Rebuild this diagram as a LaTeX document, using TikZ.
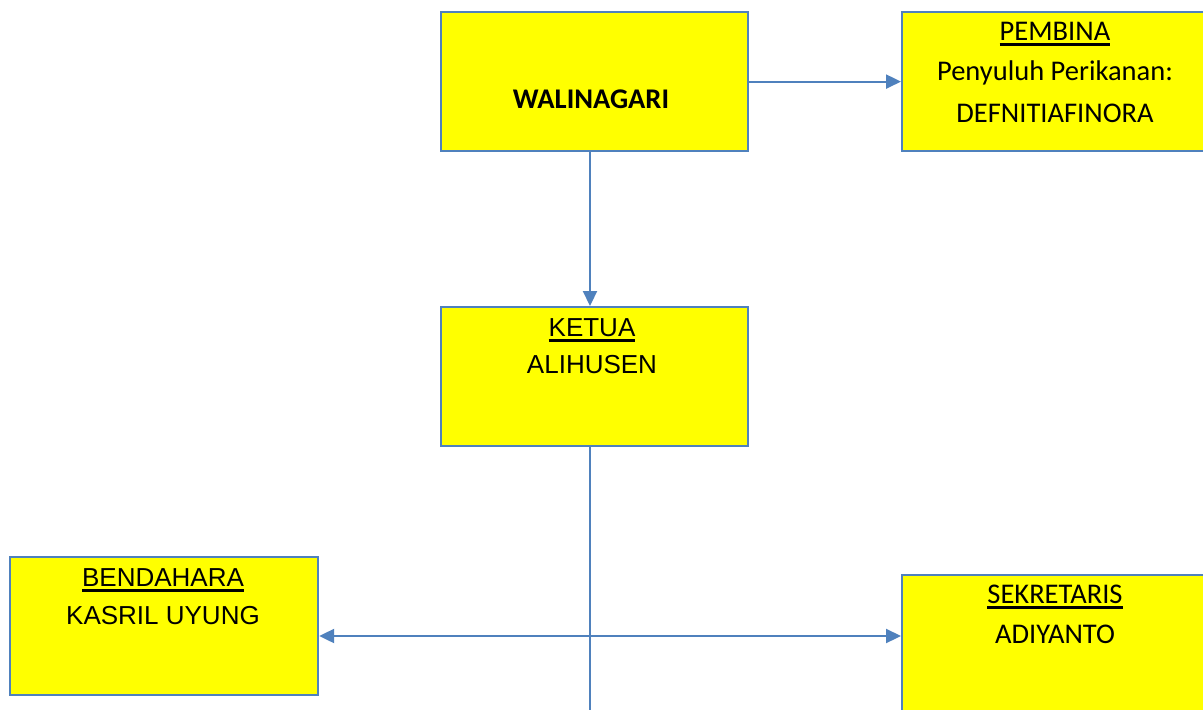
\documentclass[tikz,border=0pt]{standalone}
\usepackage{fontspec}
\setmainfont{Carlito}
\newfontfamily\arialf{Liberation Sans}
\usetikzlibrary{arrows.meta}
\definecolor{edgeblue}{RGB}{79,129,189}
\definecolor{boxyellow}{RGB}{255,255,0}
\newcommand\myul[1]{\setbox0\hbox{#1}\rlap{\raisebox{-5.5pt}{\rule{\wd0}{2.2pt}}}\box0}
\begin{document}
\begin{tikzpicture}[x=1pt,y=-1pt,
  box/.style={draw=edgeblue, fill=boxyellow, line width=2.2pt, rectangle, anchor=north west, inner sep=0pt},
  conn/.style={draw=edgeblue, line width=2.2pt},
  tip/.tip={Triangle[length=15pt,width=14pt]},
  arr/.style={conn, -tip},
  cal/.style={font=\fontsize{28.5}{34}\selectfont, anchor=base, inner sep=0pt},
  calb/.style={font=\fontsize{28.5}{34}\selectfont\bfseries, anchor=base, inner sep=0pt},
  ari/.style={font=\arialf\fontsize{26}{31}\selectfont, anchor=base, inner sep=0pt}]
\clip (0,0) rectangle (1203,710);
\fill[white] (0,0) rectangle (1203,710);
% boxes
\node[box, minimum width=307pt, minimum height=139pt] (wali) at (440,11) {};
\node[box, minimum width=330pt, minimum height=139pt] (pemb) at (901,11) {};
\node[box, minimum width=307pt, minimum height=139pt] (ketua) at (440,306) {};
\node[box, minimum width=308pt, minimum height=138pt] (bend) at (9,556) {};
\node[box, minimum width=330pt, minimum height=170pt] (sek) at (901,574) {};
% texts
\node[calb] (walit) at (591,108) {WALINAGARI};
\node[cal] (pembt1) at (1055,40) {\myul{PEMBINA}};
\node[cal] (pembt2) at (1055,80) {Penyuluh Perikanan:};
\node[cal] (pembt3) at (1055,122) {DEFNITIAFINORA};
\node[ari] (ketuat1) at (592,336) {\myul{KETUA}};
\node[ari] (ketuat2) at (592,373) {ALIHUSEN};
\node[ari] (bendt1) at (163,586) {\myul{BENDAHARA}};
\node[ari] (bendt2) at (163,624) {KASRIL UYUNG};
\node[cal] (sekt1) at (1055,603) {\myul{SEKRETARIS}};
\node[cal] (sekt2) at (1055,643) {ADIYANTO};
% connectors
\coordinate (mid) at (590,636);
\coordinate (bottom) at (590,712);
\draw[arr] (wali.east) -- (pemb.west);
\draw[arr] (mid |- wali.south) -- (mid |- ketua.north);
\draw[conn] (mid |- ketua.south) -- (bottom);
\draw[conn, tip-tip] (mid -| bend.east) -- (mid -| sek.west);
\end{tikzpicture}
\end{document}
